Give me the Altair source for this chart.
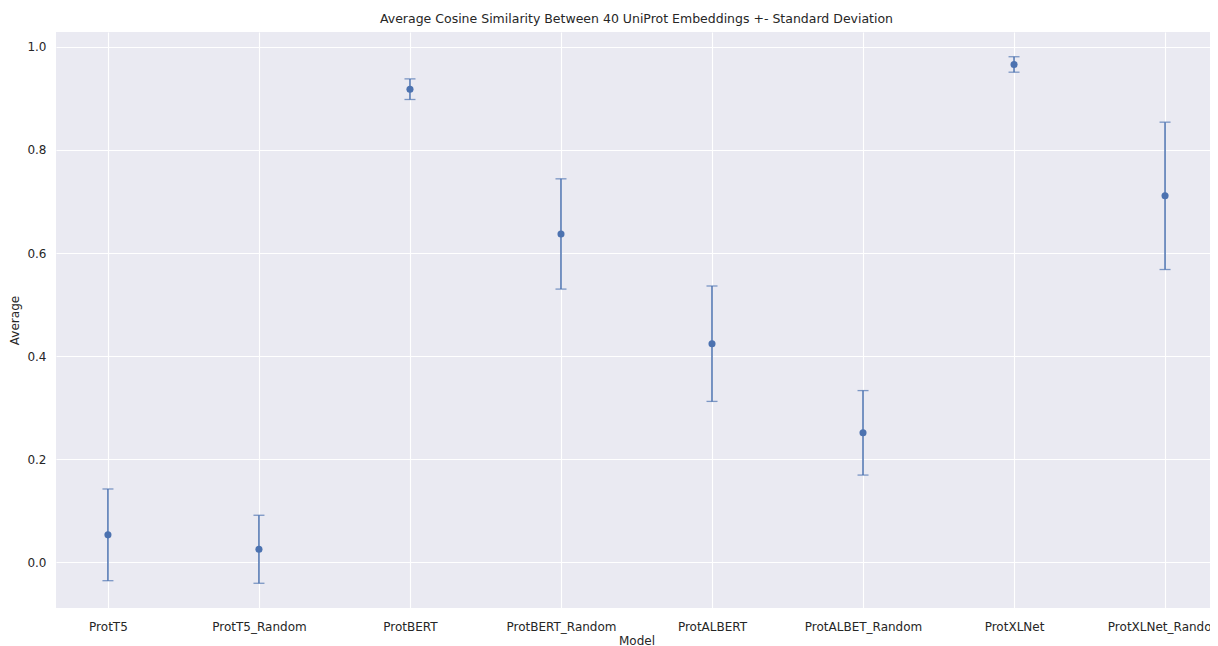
import altair as alt
import pandas as pd

models = ["ProtT5", "ProtT5_Random", "ProtBERT", "ProtBERT_Random",
          "ProtALBERT", "ProtALBET_Random", "ProtXLNet", "ProtXLNet_Random"]
means = [0.053, 0.025, 0.918, 0.637, 0.424, 0.251, 0.966, 0.711]
stds = [0.089, 0.066, 0.020, 0.107, 0.112, 0.082, 0.015, 0.143]

df = pd.DataFrame({"Model": models, "Average": means, "SD": stds})

FONT = "DejaVu Sans"
TXT = "#262626"
BLUE = "#4C72B0"

x = alt.X("Model:N", sort=models,
          scale=alt.Scale(type="point", padding=0.344),
          axis=alt.Axis(title="Model", labelAngle=0, domain=False, ticks=False, grid=True,
                        labelPadding=13, titlePadding=3, labelFontSize=12,
                        titleFontSize=12, titleFontWeight="normal",
                        gridColor="white", gridWidth=1.1,
                        labelColor=TXT, titleColor=TXT, labelFont=FONT, titleFont=FONT))
y_scale = alt.Scale(domain=[-0.089, 1.029], nice=False, zero=False)
y_axis = alt.Axis(title="Average", values=[0.0, 0.2, 0.4, 0.6, 0.8, 1.0], format=".1f",
                  domain=False, ticks=False, labelPadding=10, titlePadding=5,
                  labelFontSize=12, titleFontSize=12, titleFontWeight="normal",
                  gridColor="white", gridWidth=1.1,
                  labelColor=TXT, titleColor=TXT, labelFont=FONT, titleFont=FONT)

base = alt.Chart(df).transform_calculate(
    lo="datum.Average - datum.SD", hi="datum.Average + datum.SD")

rule = base.mark_rule(color=BLUE, strokeWidth=1.5).encode(
    x=x, y=alt.Y("lo:Q", scale=y_scale, axis=y_axis), y2="hi:Q")
cap_lo = base.mark_tick(color=BLUE, size=11, thickness=1.3, orient="horizontal").encode(
    x=x, y=alt.Y("lo:Q", scale=y_scale))
cap_hi = base.mark_tick(color=BLUE, size=11, thickness=1.3, orient="horizontal").encode(
    x=x, y=alt.Y("hi:Q", scale=y_scale))
pts = base.mark_circle(color=BLUE, size=50, opacity=1).encode(
    x=x, y=alt.Y("Average:Q", scale=y_scale))

chart = alt.layer(rule, cap_lo, cap_hi, pts).properties(
    width=1161, height=576,
    background="white",
    autosize=alt.AutoSizeParams(type="none"),
    padding={"left": 48, "top": 24, "right": -7, "bottom": 38},
    title=alt.TitleParams("Average Cosine Similarity Between 40 UniProt Embeddings +- Standard Deviation",
                          fontSize=12.5, font=FONT, color=TXT, fontWeight="normal", offset=7),
).configure_view(fill="#EAEAF2", strokeWidth=0)

chart.save("out.html", embed_options={"renderer": "svg", "actions": False})
